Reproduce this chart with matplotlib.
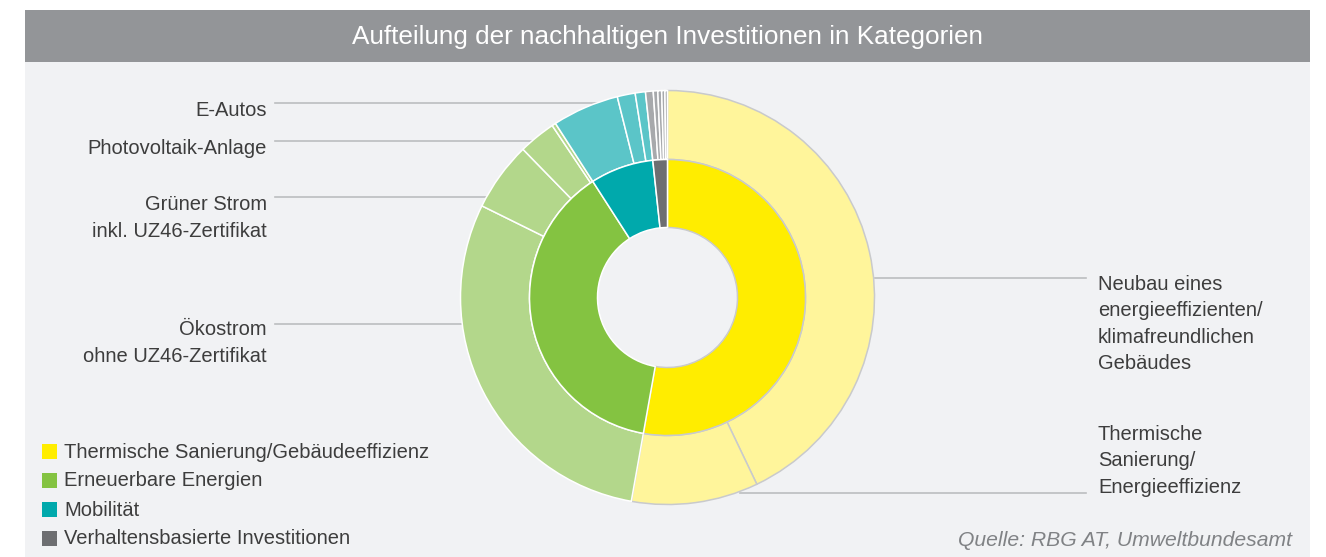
import matplotlib
matplotlib.use('Agg')
import matplotlib.pyplot as plt
from matplotlib.patches import Rectangle

plt.rcParams['font.family'] = ['Liberation Sans', 'DejaVu Sans']

title = 'Aufteilung der nachhaltigen Investitionen in Kategorien'

# inner ring: main categories
categories = [
    'Thermische Sanierung/Gebäudeeffizienz',
    'Erneuerbare Energien',
    'Mobilität',
    'Verhaltensbasierte Investitionen',
]
cat_colors = ['#ffed00', '#84c341', '#00a9ac', '#6d6e71']
cat_light = ['#fff59b', '#b3d78b', '#5bc5c8', '#a7a9ac']

# outer ring: sub categories (share in %), grouped by category
sub_values = [
    [42.9, 9.9],                      # Neubau, Thermische Sanierung
    [29.5, 5.4, 2.9, 0.3],            # Ökostrom, Grüner Strom, PV, Rest
    [5.2, 1.4, 0.8],                  # E-Autos, ...
    [0.6, 0.35, 0.3, 0.25, 0.2],      # Verhaltensbasiert
]
cat_values = [sum(v) for v in sub_values]

# label texts with (text, anchor y in px, line y in px)
left_labels = [
    ('E-Autos', 110, 103),
    ('Photovoltaik-Anlage', 149, 141),
    ('Grüner Strom\ninkl. UZ46-Zertifikat', 218, 197),
    ('Ökostrom\nohne UZ46-Zertifikat', 343, 324),
]
right_labels = [
    ('Neubau eines\nenergieeffizienten/\nklimafreundlichen\nGebäudes', 324, 278),
    ('Thermische\nSanierung/\nEnergieeffizienz', 461, 493),
]
source = 'Quelle: RBG AT, Umweltbundesamt'

W, H = 1326, 557
cx, cy, R = 667.5, 297.5, 207
r_mid, r_hole = 138, 70
txt = '#3d3d3d'
line_c = '#bcbec0'
fs = 14.5

fig = plt.figure(figsize=(W / 100, H / 100), dpi=100)
fig.patch.set_facecolor('white')

bg = fig.add_axes([0, 0, 1, 1])
bg.set_xlim(0, W)
bg.set_ylim(H, 0)
bg.axis('off')
bg.add_patch(Rectangle((25, 10), 1285, 52, color='#939598', lw=0))
bg.add_patch(Rectangle((25, 62), 1285, 500, color='#f1f2f4', lw=0))
bg.text(668, 37, title, color='white', fontsize=18.8, ha='center', va='center')

# leader lines and labels
left_ends = [597, 532, 487, 462]
for (lab, ty, ly), xe in zip(left_labels, left_ends):
    bg.plot([275, xe], [ly, ly], color=line_c, lw=1.2)
    bg.text(267, ty, lab, ha='right', va='center', fontsize=fs,
            color=txt, linespacing=1.5)
right_starts = [875, 740]
for (lab, ty, ly), xs in zip(right_labels, right_starts):
    bg.plot([xs, 1086], [ly, ly], color=line_c, lw=1.2)
    bg.text(1098, ty, lab, ha='left', va='center', fontsize=fs,
            color=txt, linespacing=1.5)

# legend
for i, (lab, col) in enumerate(zip(categories, cat_colors)):
    y = 451 + i * 29
    bg.add_patch(Rectangle((42, y - 7), 15, 15, color=col, lw=0))
    bg.text(64, y + 1, lab, ha='left', va='center', fontsize=fs, color=txt)

bg.text(1292, 541, source, ha='right', va='center', fontsize=15.2,
        color='#808285', style='italic')

# donut axes
pad = 20
side = 2 * (R + pad)
ax = fig.add_axes([(cx - R - pad) / W, (H - cy - R - pad) / H, side / W, side / H])
ax.set_facecolor('none')

outer_vals = [v for grp in sub_values for v in grp]
outer_cols = [cat_light[i] for i, grp in enumerate(sub_values) for _ in grp]
outer_edge = ['#c9cacc' if i == 0 else 'white'
              for i, grp in enumerate(sub_values) for _ in grp]

wo, _ = ax.pie(outer_vals, radius=1, colors=outer_cols, startangle=90,
               counterclock=False,
               wedgeprops=dict(width=(R - r_mid) / R, linewidth=1.1))
for w, ec in zip(wo, outer_edge):
    w.set_edgecolor(ec)

wi, _ = ax.pie(cat_values, radius=r_mid / R, colors=cat_colors, startangle=90,
               counterclock=False,
               wedgeprops=dict(width=(r_mid - r_hole) / R, linewidth=1.1))
for i, w in enumerate(wi):
    w.set_edgecolor('#c9cacc' if i == 0 else 'white')

lim = (R + pad) / R
ax.set_xlim(-lim, lim)
ax.set_ylim(-lim, lim)
ax.set_aspect('equal')
ax.axis('off')

fig.savefig('out.png', dpi=100)
